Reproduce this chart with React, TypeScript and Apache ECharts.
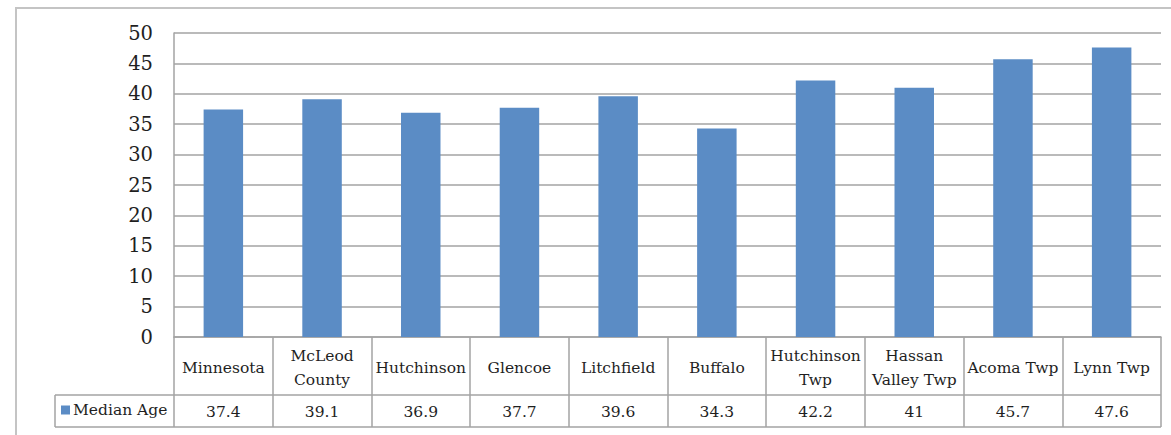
import React, { useEffect, useRef } from "react";
import * as echarts from "echarts";

// Median age by place
const categories: string[] = [
  "Minnesota",
  "McLeod\nCounty",
  "Hutchinson",
  "Glencoe",
  "Litchfield",
  "Buffalo",
  "Hutchinson\nTwp",
  "Hassan\nValley Twp",
  "Acoma Twp",
  "Lynn Twp",
];
const medianAge: number[] = [37.4, 39.1, 36.9, 37.7, 39.6, 34.3, 42.2, 41, 45.7, 47.6];
const seriesName = "Median Age";
const yTicks = { min: 0, max: 50, interval: 5 };

const FONT = "'DejaVu Serif', 'Liberation Serif', serif";
const TEXT = "#1f1f1f";
const LINE = "#a3a3a3";
const BAR = "#5b8cc5";

export default function App() {
  const ref = useRef<HTMLDivElement>(null);

  useEffect(() => {
    if (!ref.current) return;
    const chart = echarts.init(ref.current, undefined, { renderer: "svg" });

    const gridLeft = 174;
    const gridRight = 10;
    const gridTop = 33;
    const gridBottom = 98;
    const W = 1171;
    const H = 435;
    const axisY = H - gridBottom; // 337
    const rowSplitY = 395;
    const tableBottomY = 427;
    const tableRightX = W - gridRight;

    chart.setOption({
      animation: false,
      backgroundColor: "#ffffff",
      textStyle: { fontFamily: FONT },
      grid: { left: gridLeft, right: gridRight, top: gridTop, bottom: gridBottom },
      legend: {
        show: true,
        left: 61,
        top: 402,
        icon: "rect",
        itemWidth: 9,
        itemHeight: 9,
        itemGap: 4,
        padding: 0,
        textStyle: { fontFamily: FONT, fontSize: 15.5, color: TEXT, padding: [0, 0, 0, -2] },
        data: [seriesName],
      },
      xAxis: [
        {
          type: "category",
          data: categories,
          position: "bottom",
          axisLine: { show: true, lineStyle: { color: LINE, width: 1.5 } },
          axisTick: {
            show: true,
            interval: 0,
            length: tableBottomY - axisY,
            lineStyle: { color: LINE, width: 1.5 },
          },
          axisLabel: {
            interval: 0,
            margin: 31,
            verticalAlign: "middle",
            fontFamily: FONT,
            fontSize: 15.5,
            lineHeight: 24,
            color: TEXT,
          },
        },
        {
          type: "category",
          data: categories,
          position: "bottom",
          axisLine: { show: false },
          axisTick: { show: false },
          axisLabel: {
            interval: 0,
            margin: 75,
            verticalAlign: "middle",
            fontFamily: FONT,
            fontSize: 15.5,
            color: TEXT,
            formatter: (_v: string, i: number) => String(medianAge[i]),
          },
        },
      ],
      yAxis: {
        type: "value",
        min: yTicks.min,
        max: yTicks.max,
        interval: yTicks.interval,
        axisLine: { show: true, lineStyle: { color: LINE, width: 1.5 } },
        axisTick: { show: false },
        splitLine: { show: true, lineStyle: { color: LINE, width: 1.5 } },
        axisLabel: { margin: 21, fontFamily: FONT, fontSize: 19.5, color: TEXT },
      },
      series: [
        {
          name: seriesName,
          type: "bar",
          data: medianAge,
          barWidth: "40%",
          itemStyle: { color: BAR },
        },
      ],
      graphic: [
        // outer chart frame
        {
          type: "rect",
          shape: { x: 16, y: 8, width: W + 20, height: H + 20 },
          style: { fill: "none", stroke: "#c4c4c4", lineWidth: 2 },
          silent: true,
        },
        // data table rules
        {
          type: "line",
          shape: { x1: 55, y1: rowSplitY, x2: tableRightX, y2: rowSplitY },
          style: { stroke: LINE, lineWidth: 1.5 },
          silent: true,
        },
        {
          type: "line",
          shape: { x1: 55, y1: tableBottomY, x2: tableRightX, y2: tableBottomY },
          style: { stroke: LINE, lineWidth: 1.5 },
          silent: true,
        },
        {
          type: "line",
          shape: { x1: 55, y1: rowSplitY, x2: 55, y2: tableBottomY },
          style: { stroke: LINE, lineWidth: 1.5 },
          silent: true,
        },
      ],
    });

    return () => chart.dispose();
  }, []);

  return (
    <div
      ref={ref}
      style={{ position: "fixed", left: 0, top: 0, width: 1171, height: 435, background: "#fff" }}
    />
  );
}
